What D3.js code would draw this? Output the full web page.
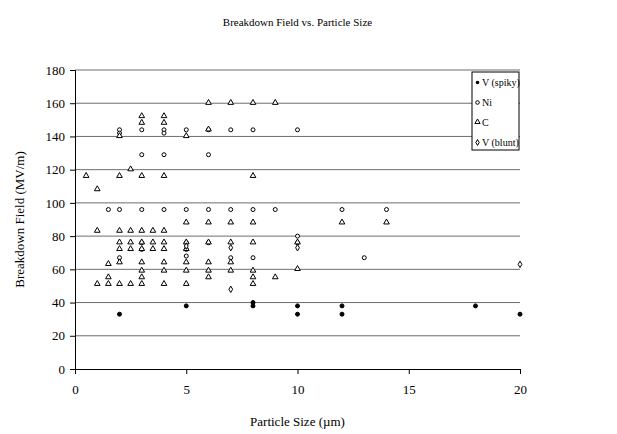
<!DOCTYPE html>
<html>
<head>
<meta charset="utf-8">
<script src="https://cdn.jsdelivr.net/npm/d3@7"></script>
<style>
body { margin: 0; background: #fff; }
text { font-family: "Liberation Serif", "Times New Roman", serif; fill: #000; }
</style>
</head>
<body>
<div id="chart"></div>
<script>
// data: [particle size, breakdown field]
var vSpiky = [[2,33],[5,38],[8,38],[8,40],[10,38],[10,33],[12,38],[12,33],[18,38],[20,33]];
var ni = [[1.5,96],[2,144],[2,142],[2,96],[2,67],[3,144],[3,129],[3,96],[3,76],[3,72],
  [4,144],[4,142],[4,129],[4,96],[5,144],[5,96],[5,76],[5,72],[5,68],[6,144],[6,129],
  [6,96],[6,76],[7,144],[7,96],[7,67],[8,144],[8,96],[8,67],[9,96],[10,144],[10,80],
  [10,76],[12,96],[13,67],[14,96]];
var carbon = [[0.5,116],[1,108],[1,83],[1,51],[1.5,63],[1.5,55],[1.5,51],
  [2,140],[2,116],[2,83],[2,76],[2,72],[2,64],[2,51],
  [2.5,120],[2.5,83],[2.5,76],[2.5,72],[2.5,51],
  [3,152],[3,148],[3,116],[3,83],[3,76],[3,72],[3,64],[3,59],[3,55],[3,51],
  [3.5,83],[3.5,76],[3.5,72],
  [4,152],[4,148],[4,116],[4,83],[4,76],[4,72],[4,64],[4,59],[4,51],
  [5,140],[5,88],[5,76],[5,72],[5,64],[5,59],[5,51],
  [6,160],[6,144],[6,88],[6,76],[6,64],[6,59],[6,55],
  [7,160],[7,88],[7,76],[7,64],[7,59],
  [8,160],[8,116],[8,88],[8,76],[8,59],[8,55],[8,51],
  [9,160],[9,55],[10,76],[10,60],[12,88],[14,88]];
var vBlunt = [[5,74],[7,48],[7,73],[10,73],[20,63]];
var xTicks = [0,5,10,15,20];
var yTicks = [0,20,40,60,80,100,120,140,160,180];
var seriesNames = ["V (spiky)", "Ni", "C", "V (blunt)"];

var W = 617, H = 434;
var margin = {top: 70, right: 97, bottom: 65, left: 75};
var width = W - margin.left - margin.right;
var height = H - margin.top - margin.bottom;

var svg = d3.select("#chart").append("svg")
  .attr("width", W).attr("height", H);

var g = svg.append("g")
  .attr("transform", "translate(" + margin.left + "," + margin.top + ")");

var x = d3.scaleLinear().domain([0, 20]).range([0, width]);
var y = d3.scaleLinear().domain([0, 180]).range([height, 0]);

// gridlines
g.selectAll(".grid").data(yTicks.filter(function(d) { return d > 0; }))
  .enter().append("line")
  .attr("x1", 0).attr("x2", width)
  .attr("y1", function(d) { return y(d); })
  .attr("y2", function(d) { return y(d); })
  .attr("stroke", "#6e6e6e").attr("stroke-width", 1);

// axes
var xAxis = g.append("g")
  .attr("transform", "translate(0," + height + ")")
  .call(d3.axisBottom(x).tickValues(xTicks).tickSize(5).tickPadding(11));
var yAxis = g.append("g")
  .call(d3.axisLeft(y).tickValues(yTicks).tickSize(5).tickPadding(5));
[xAxis, yAxis].forEach(function(a) {
  a.select(".domain").attr("stroke", "#000");
  a.selectAll(".tick line").attr("stroke", "#000");
  a.selectAll("text").style("font-family", "Liberation Serif").style("font-size", "13px");
});

// markers
function dot(sel, r, fill) {
  sel.enter().append("circle")
    .attr("cx", function(d) { return x(d[0]); })
    .attr("cy", function(d) { return y(d[1]); })
    .attr("r", r)
    .attr("fill", fill).attr("stroke", "#000").attr("stroke-width", 1);
}
dot(g.selectAll(".ni").data(ni), 2, "#fff");
g.selectAll(".c").data(carbon).enter().append("path")
  .attr("d", d3.symbol().type(d3.symbolTriangle).size(14))
  .attr("transform", function(d) { return "translate(" + x(d[0]) + "," + (y(d[1]) - 0.5) + ")"; })
  .attr("fill", "#fff").attr("stroke", "#000").attr("stroke-width", 1);
g.selectAll(".vb").data(vBlunt).enter().append("path")
  .attr("d", d3.symbol().type(d3.symbolDiamond).size(12))
  .attr("transform", function(d) { return "translate(" + x(d[0]) + "," + y(d[1]) + ")"; })
  .attr("fill", "#fff").attr("stroke", "#000").attr("stroke-width", 1);
dot(g.selectAll(".vs").data(vSpiky), 2, "#000");

// legend
var leg = svg.append("g").attr("transform", "translate(472,72)");
leg.append("rect").attr("width", 47).attr("height", 78)
  .attr("fill", "#fff").attr("stroke", "#000");
leg.selectAll("text").data(seriesNames).enter().append("text")
  .attr("x", 10).attr("y", function(d, i) { return 14 + i * 20; })
  .style("font-size", "10px").text(function(d) { return d; });
leg.append("circle").attr("cx", 5.5).attr("cy", 10.5).attr("r", 1.8).attr("fill", "#000");
leg.append("circle").attr("cx", 5.5).attr("cy", 30.5).attr("r", 1.8).attr("fill", "#fff").attr("stroke", "#000");
leg.append("path").attr("d", d3.symbol().type(d3.symbolTriangle).size(12))
  .attr("transform", "translate(5.5,50)").attr("fill", "#fff").attr("stroke", "#000");
leg.append("path").attr("d", d3.symbol().type(d3.symbolDiamond).size(10))
  .attr("transform", "translate(5.5,70.5)").attr("fill", "#fff").attr("stroke", "#000");

// titles
svg.append("text").attr("x", margin.left + width / 2).attr("y", 26)
  .attr("text-anchor", "middle").style("font-size", "11px")
  .text("Breakdown Field vs. Particle Size");
svg.append("text").attr("x", margin.left + width / 2).attr("y", 426)
  .attr("text-anchor", "middle").style("font-size", "13px")
  .text("Particle Size (\u00b5m)");
svg.append("text")
  .attr("transform", "translate(24," + (margin.top + height / 2) + ") rotate(-90)")
  .attr("text-anchor", "middle").style("font-size", "13px")
  .text("Breakdown Field (MV/m)");
</script>
</body>
</html>
